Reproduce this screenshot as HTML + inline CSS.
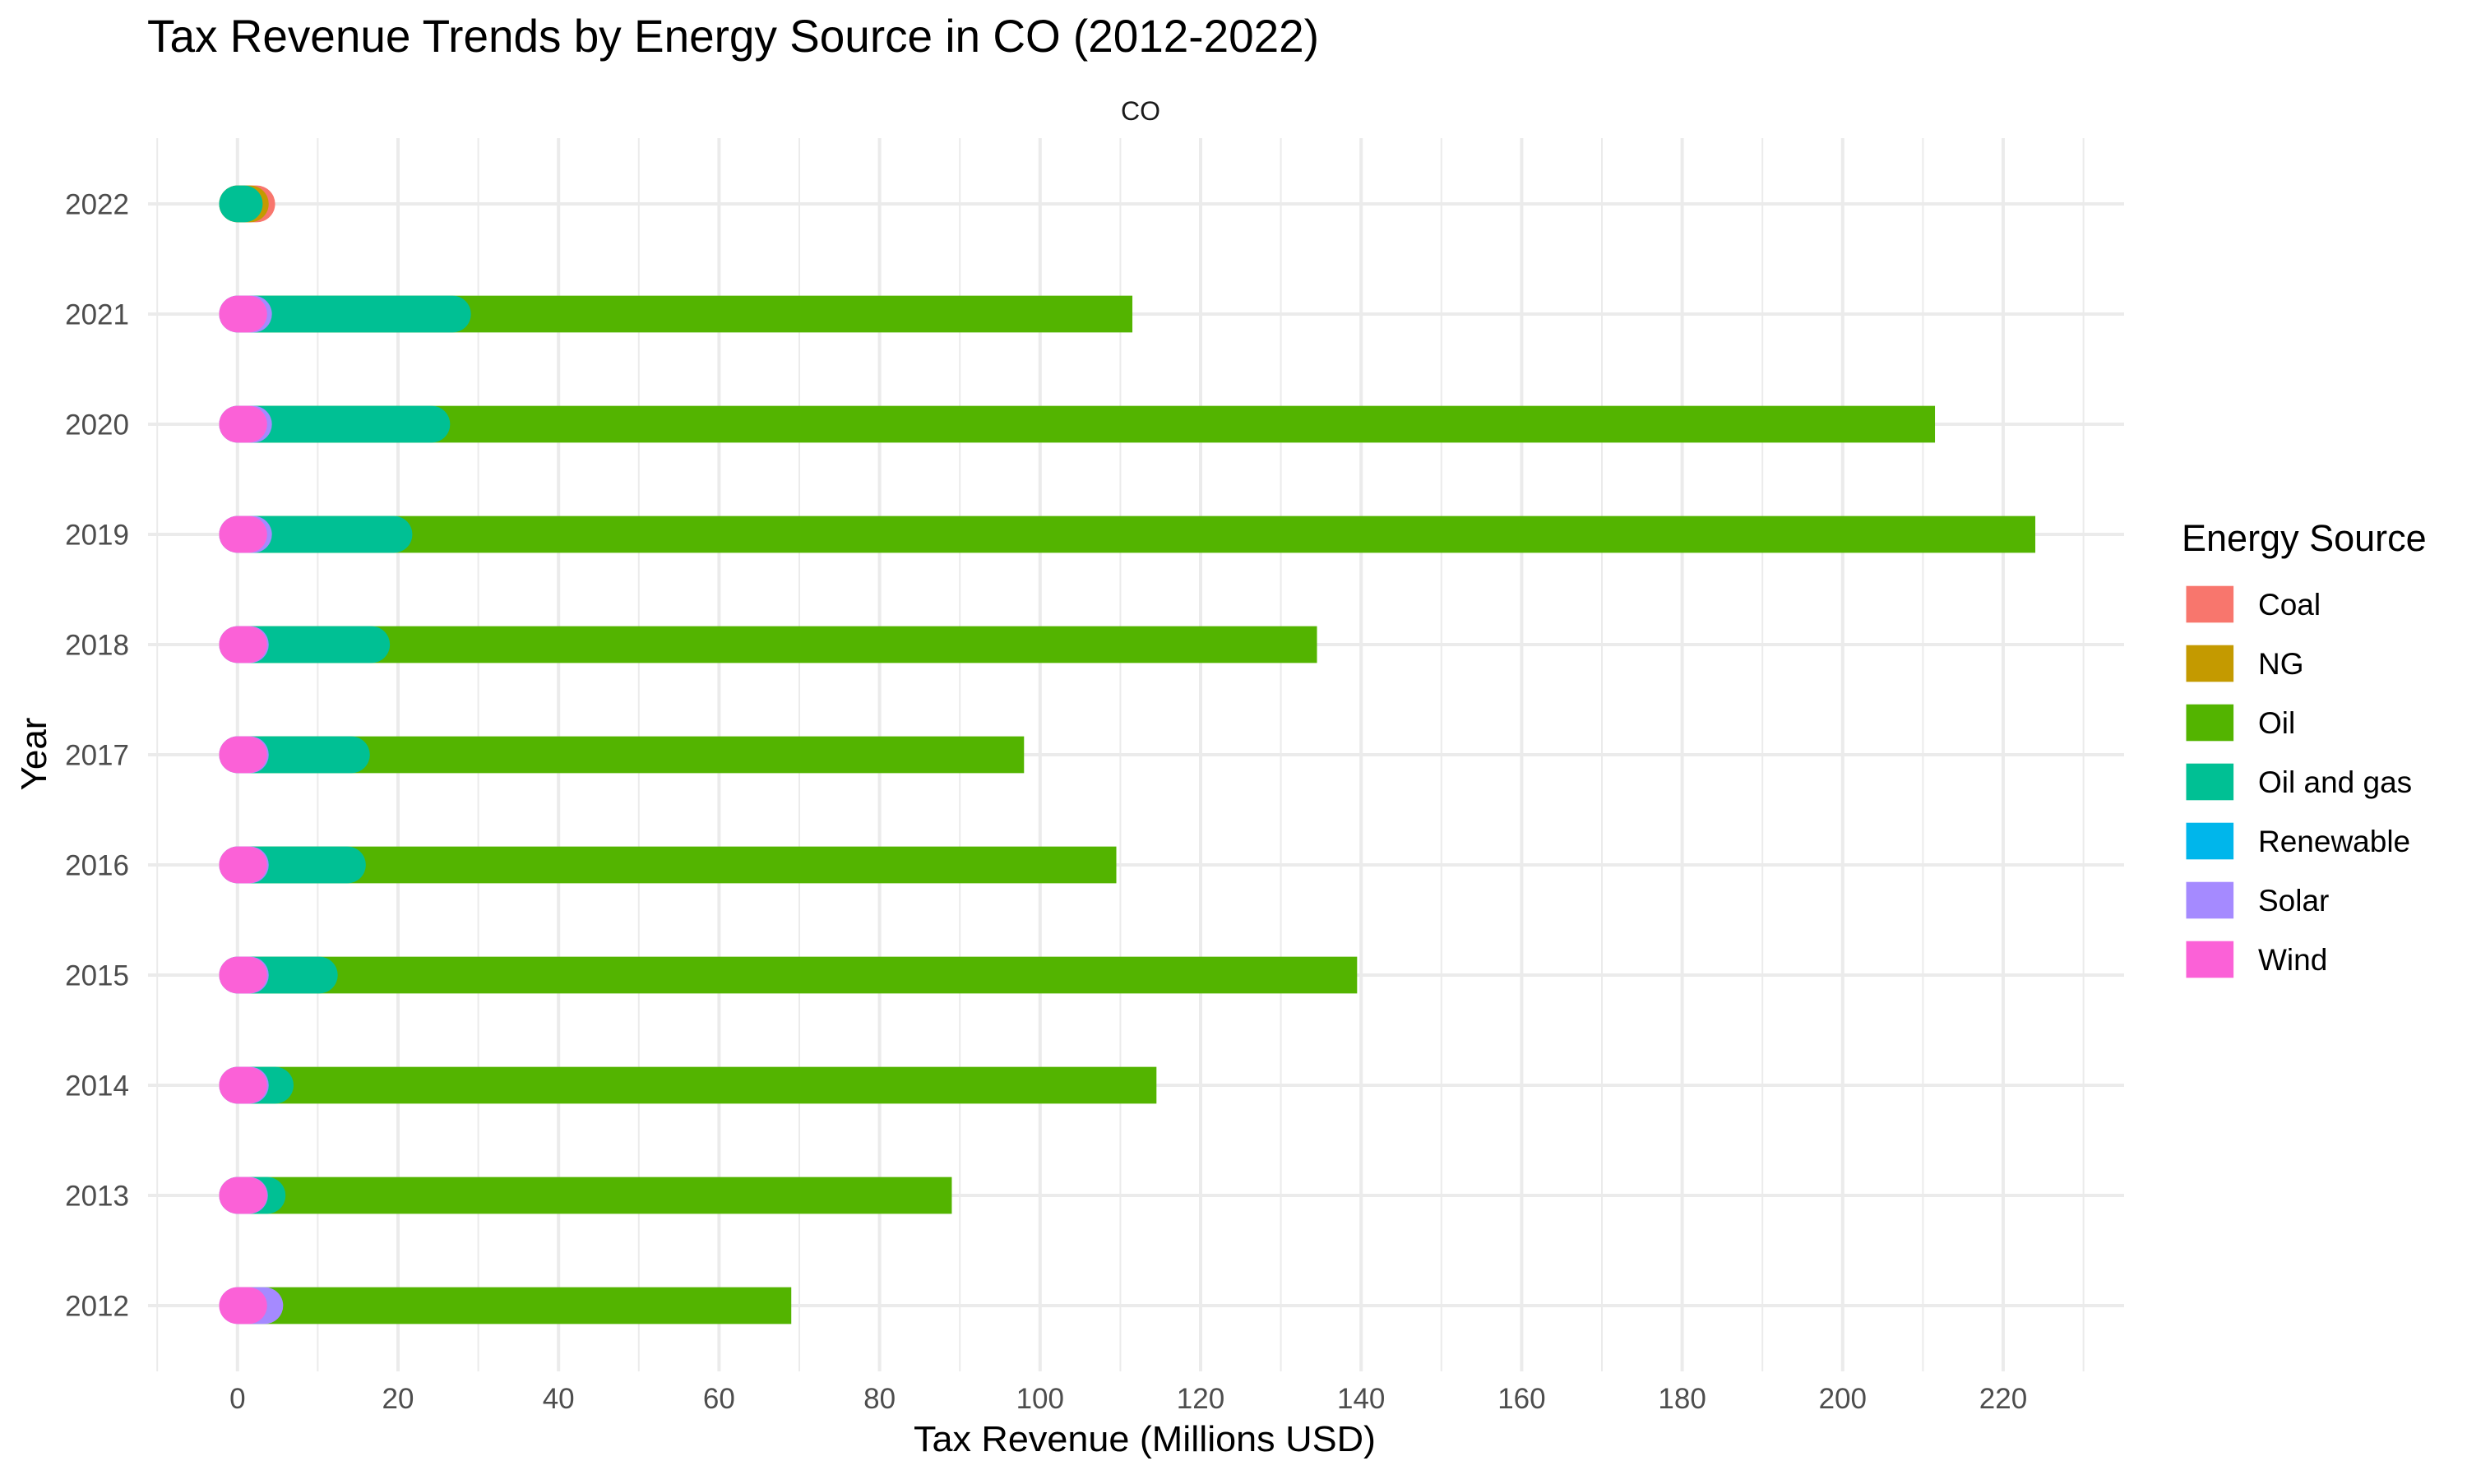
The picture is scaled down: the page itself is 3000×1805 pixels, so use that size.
<!DOCTYPE html>
<html><head><meta charset="utf-8"><style>
html,body{margin:0;padding:0;background:#fff;}
svg text{font-family:"Liberation Sans",Arial,sans-serif;}
</style></head><body>
<svg id="chart" width="3000" height="1800" viewBox="0 0 3000 1800" xmlns="http://www.w3.org/2000/svg">
<text x="179" y="63" font-size="56" fill="#000" textLength="1425" lengthAdjust="spacingAndGlyphs">Tax Revenue Trends by Energy Source in CO (2012-2022)</text>
<text x="1387" y="146" font-size="32" fill="#1a1a1a" text-anchor="middle">CO</text>
<g id="grid"></g>
<g id="bars"></g>
<g id="xticks"></g>
<g id="yticks"></g>
<text x="1392" y="1765" font-size="44" fill="#000" text-anchor="middle" textLength="562" lengthAdjust="spacingAndGlyphs">Tax Revenue (Millions USD)</text>
<text transform="translate(56,917) rotate(-90)" font-size="44" fill="#000" text-anchor="middle">Year</text>
<text x="2653" y="670" font-size="45" fill="#000">Energy Source</text>
<g id="legend"></g>
</svg>
<script>
const years = [2012,2013,2014,2015,2016,2017,2018,2019,2020,2021,2022];
const sources = ["Coal","NG","Oil","Oil and gas","Renewable","Solar","Wind"];
const colors = ["#F8766D","#C49A00","#53B400","#00C094","#00B6EB","#A58AFF","#FB61D7"];
const coalVals = [null,null,null,null,null,null,null,null,null,null,2.4];
const ngVals = [null,null,null,null,null,null,null,null,null,null,1.6];
const oilVals = [69,89,114.5,139.5,109.5,98,134.5,224,211.5,111.5,null];
const oilGasVals = [null,3.7,4.7,10.2,13.7,14.2,16.7,19.5,24.2,26.8,0.85];
const renewVals = [null,null,null,null,null,null,null,null,null,null,null];
const solarVals = [3.4,1.5,1.6,1.6,1.6,1.6,1.6,2.0,2.0,2.0,null];
const windVals = [1.4,1.4,1.4,1.4,1.4,1.4,1.4,1.4,1.4,1.4,null];
const xTicks = [0,20,40,60,80,100,120,140,160,180,200,220];
const xMinor = [-10,10,30,50,70,90,110,130,150,170,190,210,230];

const NS="http://www.w3.org/2000/svg";
const PL=180, PR=2583, PT=168, PB=1668;
function xs(v){return 288.8+9.76*v;}
function ys(i){return 1588-134*i;}
function mk(tag,attrs,parent){const e=document.createElementNS(NS,tag);for(const k in attrs)e.setAttribute(k,attrs[k]);parent.appendChild(e);return e;}

const grid=document.getElementById('grid');
xMinor.forEach(v=>{const l=mk('line',{x1:xs(v),x2:xs(v),y1:PT,y2:PB,stroke:'#ebebeb','stroke-width':2},grid);

});
xTicks.forEach(v=>{const l=mk('line',{x1:xs(v),x2:xs(v),y1:PT,y2:PB,stroke:'#ebebeb','stroke-width':4},grid);

});
years.forEach((y,i)=>{const l=mk('line',{x1:PL,x2:PR,y1:ys(i),y2:ys(i),stroke:'#ebebeb','stroke-width':4},grid);

});

const series=[coalVals,ngVals,oilVals,oilGasVals,renewVals,solarVals,windVals];
const bars=document.getElementById('bars');
const H=44.7;
series.forEach((vals,s)=>{
  vals.forEach((v,i)=>{
    if(v===null||v===undefined)return;
    let el;
    if(s===2){
      el=mk('rect',{x:xs(0),y:ys(i)-H/2,width:xs(v)-xs(0),height:H,fill:colors[s]},bars);
    }else{
      el=mk('line',{x1:xs(0),x2:xs(v),y1:ys(i),y2:ys(i),stroke:colors[s],'stroke-width':H,'stroke-linecap':'round'},bars);
    }
    
    
  });
});

const xt=document.getElementById('xticks');
xTicks.forEach(v=>{const t=mk('text',{x:xs(v),y:1713,'font-size':35,fill:'#4d4d4d','text-anchor':'middle'},xt);t.textContent=v;

});
const yt=document.getElementById('yticks');
years.forEach((y,i)=>{const t=mk('text',{x:157,y:ys(i)+12.5,'font-size':35,fill:'#4d4d4d','text-anchor':'end'},yt);t.textContent=y;

});

const lg=document.getElementById('legend');
sources.forEach((s,i)=>{const cy=735+72*i;
const g=mk('g',{},lg);


mk('rect',{x:2658.5,y:cy-22.3,width:57.6,height:44.6,fill:colors[i]},g);
const t=mk('text',{x:2746,y:cy+13,'font-size':37,fill:'#000'},g);t.textContent=s;});
</script>
</body></html>
